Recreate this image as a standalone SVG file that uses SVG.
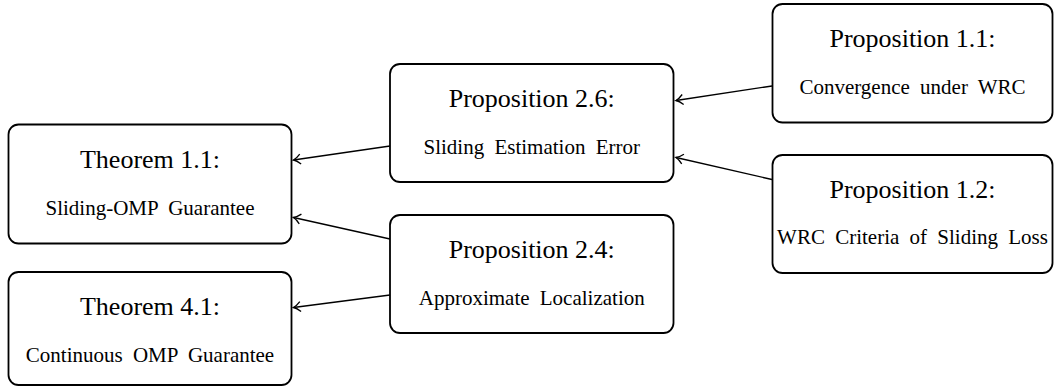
<svg xmlns="http://www.w3.org/2000/svg" width="1054" height="387" viewBox="0 0 1054 387">
<style>
.box{fill:#fff;stroke:#000;stroke-width:1.8}
.t{font-family:"Liberation Serif","Times New Roman",serif;font-size:26px;text-anchor:middle;fill:#000}
.s{font-family:"Liberation Serif","Times New Roman",serif;font-size:21px;text-anchor:middle;fill:#000;word-spacing:5px}
.e{fill:none;stroke:#000;stroke-width:1.3;marker-end:url(#arr)}
</style>
<defs>
<marker id="arr" viewBox="-10 -6 12 12" refX="0" refY="0" markerWidth="12" markerHeight="12" markerUnits="userSpaceOnUse" orient="auto">
<path d="M -7 -5 Q -3 -1 0 0 Q -3 1 -7 5" fill="none" stroke="#000" stroke-width="1.3"/>
</marker>
</defs>
<g id="connectors">
<line class="e" x1="772" y1="86" x2="676" y2="100.5"/>
<line class="e" x1="772" y1="179.5" x2="676" y2="157.5"/>
<line class="e" x1="390" y1="146" x2="293.5" y2="160"/>
<line class="e" x1="390" y1="239" x2="293.5" y2="217.5"/>
<line class="e" x1="390" y1="295" x2="293.5" y2="307.5"/>
</g>
<g id="thm11">
<rect class="box" x="8.5" y="124.5" width="283" height="119" rx="10"/>
<text class="t" x="150" y="167.5">Theorem 1.1:</text>
<text class="s" x="150" y="214.5">Sliding-OMP Guarantee</text>
</g>
<g id="thm41">
<rect class="box" x="8.5" y="272" width="283" height="113" rx="10"/>
<text class="t" x="150" y="315">Theorem 4.1:</text>
<text class="s" x="150" y="362">Continuous OMP Guarantee</text>
</g>
<g id="prop26">
<rect class="box" x="390" y="64" width="283.5" height="118" rx="10"/>
<text class="t" x="531.75" y="107">Proposition 2.6:</text>
<text class="s" x="531.75" y="154">Sliding Estimation Error</text>
</g>
<g id="prop24">
<rect class="box" x="390" y="215" width="283.5" height="118" rx="10"/>
<text class="t" x="531.75" y="258">Proposition 2.4:</text>
<text class="s" x="531.75" y="305">Approximate Localization</text>
</g>
<g id="prop11">
<rect class="box" x="772.5" y="4" width="280" height="118.5" rx="10"/>
<text class="t" x="912.5" y="47">Proposition 1.1:</text>
<text class="s" x="912.5" y="94">Convergence under WRC</text>
</g>
<g id="prop12">
<rect class="box" x="772.5" y="155" width="280" height="118" rx="10"/>
<text class="t" x="912.5" y="198">Proposition 1.2:</text>
<text class="s" x="912.5" y="244">WRC Criteria of Sliding Loss</text>
</g>
</svg>
